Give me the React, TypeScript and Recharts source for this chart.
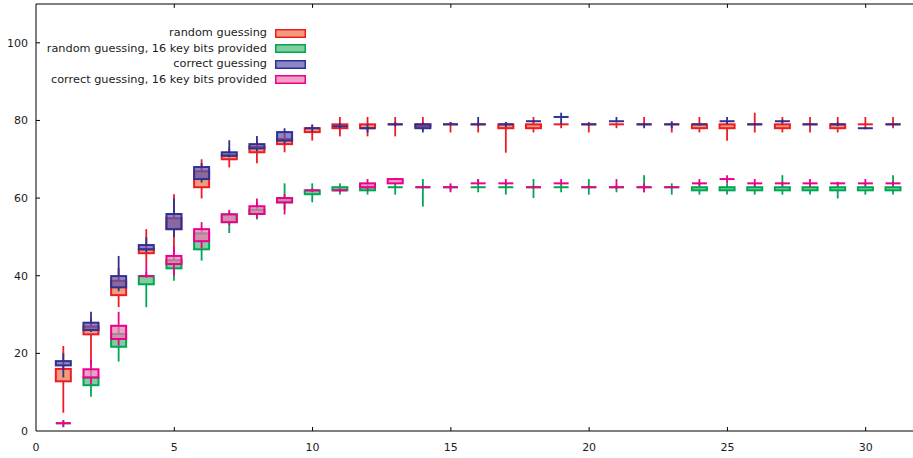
import React from 'react';
import { ComposedChart, Bar, XAxis, YAxis, Legend, ReferenceLine } from 'recharts';

// x positions
const xValues = [1, 2, 3, 4, 5, 6, 7, 8, 9, 10, 11, 12, 13, 14, 15, 16, 17, 18, 19, 20, 21, 22, 23, 24, 25, 26, 27, 28, 29, 30, 31];

// each entry: [whisker min, box low, box high, whisker max]
const randomGuessing: number[][] = [
  [4.7, 12.8, 16.0, 21.9], [17.0, 24.9, 26.9, 29.0], [31.9, 35.0, 38.7, 42.0], [43.0, 45.8, 46.8, 52.0],
  [46.0, 52.0, 54.8, 61.0], [59.9, 62.8, 66.9, 70.0], [67.9, 70.0, 71.0, 73.0], [69.0, 71.8, 73.2, 75.0],
  [71.8, 73.9, 75.2, 77.0], [74.8, 77.0, 78.0, 78.8], [75.9, 78.0, 79.0, 80.9], [75.9, 78.0, 79.0, 80.9],
  [75.9, 79.0, 79.0, 80.9], [77.5, 78.5, 79.0, 80.9], [76.9, 79.0, 79.0, 79.6], [76.9, 79.0, 79.0, 79.5],
  [71.7, 78.0, 79.0, 79.6], [76.9, 78.0, 79.0, 80.9], [78.0, 79.0, 79.0, 79.3], [76.9, 79.0, 79.0, 79.6],
  [78.0, 79.0, 79.0, 79.5], [78.5, 79.0, 79.0, 80.9], [76.9, 79.0, 79.0, 79.5], [76.9, 78.0, 79.0, 80.9],
  [74.8, 78.0, 79.0, 79.5], [76.9, 79.0, 79.0, 82.0], [76.9, 78.0, 79.0, 80.9], [76.9, 79.0, 79.0, 80.9],
  [76.9, 78.0, 79.0, 80.9], [78.0, 79.0, 79.0, 80.9], [78.0, 79.0, 79.0, 80.9],
];

const randomGuessing16: number[][] = [
  [1.0, 2.0, 2.0, 2.8], [8.8, 11.8, 13.8, 16.0], [17.9, 21.7, 25.0, 27.0], [31.9, 37.8, 39.9, 41.0],
  [38.7, 41.9, 44.0, 46.0], [43.9, 46.8, 50.9, 52.0], [51.0, 53.8, 55.8, 56.5], [54.5, 55.9, 57.0, 59.0],
  [57.0, 58.9, 60.0, 63.8], [58.9, 61.0, 62.0, 63.8], [60.9, 62.0, 62.8, 63.8], [60.9, 62.0, 62.8, 63.5],
  [60.9, 62.8, 62.8, 63.8], [57.8, 62.8, 62.8, 64.9], [62.0, 62.8, 62.8, 63.5], [61.5, 62.8, 62.8, 64.9],
  [60.9, 62.8, 62.8, 64.0], [60.0, 62.8, 62.8, 64.9], [61.5, 62.8, 62.8, 64.0], [60.9, 62.8, 62.8, 64.9],
  [61.5, 62.8, 62.8, 63.3], [61.5, 62.8, 62.8, 65.9], [60.9, 62.8, 62.8, 63.8], [60.9, 62.0, 62.8, 63.8],
  [60.9, 62.0, 62.8, 63.8], [60.9, 62.0, 62.8, 63.5], [60.9, 62.0, 62.8, 65.9], [60.9, 62.0, 62.8, 63.5],
  [59.9, 62.0, 62.8, 63.5], [60.9, 62.0, 62.8, 63.5], [60.9, 62.0, 62.8, 65.9],
];

const correctGuessing: number[][] = [
  [13.8, 16.9, 18.0, 20.0], [25.5, 26.0, 27.9, 30.7], [36.0, 37.0, 39.9, 45.1], [46.0, 46.8, 47.9, 49.9],
  [50.0, 52.0, 55.9, 59.9], [64.0, 64.9, 68.0, 69.0], [70.5, 70.9, 71.8, 74.9], [72.0, 72.8, 73.9, 76.0],
  [74.0, 74.8, 77.0, 78.0], [77.0, 78.0, 78.0, 79.0], [78.0, 78.5, 78.5, 79.3], [76.9, 78.0, 78.0, 79.0],
  [78.5, 79.0, 79.0, 79.6], [76.9, 78.0, 79.0, 79.5], [78.8, 79.0, 79.0, 79.6], [78.5, 79.0, 79.0, 80.9],
  [78.2, 79.0, 79.0, 79.6], [79.5, 79.8, 79.8, 80.0], [79.0, 80.9, 80.9, 82.0], [78.6, 79.0, 79.0, 79.4],
  [79.8, 79.8, 79.8, 80.9], [78.0, 79.0, 79.0, 79.2], [78.0, 79.0, 79.0, 79.8], [78.7, 79.0, 79.0, 79.2],
  [79.0, 79.8, 79.8, 80.9], [78.7, 79.0, 79.0, 79.3], [79.3, 79.8, 79.8, 80.2], [78.7, 79.0, 79.0, 79.3],
  [78.5, 79.0, 79.0, 79.5], [77.7, 78.0, 78.0, 78.3], [78.7, 79.0, 79.0, 79.3],
];

const correctGuessing16: number[][] = [
  [1.0, 2.0, 2.0, 2.8], [12.0, 13.8, 15.9, 18.3], [22.0, 23.7, 27.1, 30.7], [39.5, 39.9, 39.9, 43.0],
  [40.0, 43.0, 45.1, 47.5], [47.0, 48.9, 52.0, 53.8], [53.0, 53.8, 55.8, 57.0], [54.8, 55.9, 57.9, 59.9],
  [55.8, 58.9, 60.0, 61.0], [61.5, 62.0, 62.0, 62.5], [61.5, 62.0, 62.0, 62.5], [62.0, 62.8, 63.8, 64.9],
  [63.5, 63.8, 64.9, 65.2], [62.5, 62.8, 62.8, 63.2], [61.5, 62.8, 62.8, 63.8], [63.5, 63.8, 63.8, 64.9],
  [63.2, 63.8, 63.8, 64.9], [62.5, 62.8, 62.8, 63.2], [63.5, 63.8, 63.8, 64.9], [62.5, 62.8, 62.8, 63.2],
  [62.3, 62.8, 62.8, 64.9], [61.5, 62.8, 62.8, 63.8], [62.5, 62.8, 62.8, 63.1], [63.2, 63.8, 63.8, 64.9],
  [63.8, 64.9, 64.9, 65.9], [63.0, 63.8, 63.8, 64.9], [63.2, 63.8, 63.8, 64.2], [63.0, 63.8, 63.8, 64.9],
  [63.2, 63.8, 63.8, 64.2], [63.2, 63.8, 63.8, 64.9], [63.2, 63.8, 63.8, 64.3],
];

const seriesNames = [
  'random guessing',
  'random guessing, 16 key bits provided',
  'correct guessing',
  'correct guessing, 16 key bits provided',
];

const xTicks = [0, 5, 10, 15, 20, 25, 30];
const yTicks = [0, 20, 40, 60, 80, 100];
const Y_MAX = 110;

const data = xValues.map((x, i) => ({
  x,
  r: randomGuessing[i],
  g: randomGuessing16[i],
  b: correctGuessing[i],
  p: correctGuessing16[i],
}));

const FILL_OPACITY = 0.7;

const series = [
  { key: 'r', axis: 'xr', name: seriesNames[0], stroke: '#ed1c24', fill: '#f07045' },
  { key: 'g', axis: 'xg', name: seriesNames[1], stroke: '#00a651', fill: '#4cb877' },
  { key: 'b', axis: 'xb', name: seriesNames[2], stroke: '#2e3192', fill: '#5a54ae' },
  { key: 'p', axis: 'xp', name: seriesNames[3], stroke: '#ec008c', fill: '#ee77b0' },
];

const FONT = 'DejaVu Sans';
const TEXT = '#1c1c1c';

const makeShape = (key: string, stroke: string, fill: string) => (props: any) => {
  const { x, y, width, height, payload } = props;
  const v: number[] = payload[key];
  if (!v) return <g />;
  const [lo, q1, q3, hi] = v;
  const top = Math.min(y, y + height);
  const h = Math.abs(height);
  const toY = (val: number) => (hi === lo ? top : top + (h * (hi - val)) / (hi - lo));
  const cx = x + width / 2;
  const yQ1 = toY(q1);
  const yQ3 = toY(q3);
  const yLo = toY(lo);
  const yHi = toY(hi);
  const boxH = yQ1 - yQ3;
  return (
    <g>
      {yQ3 - yHi > 0.1 && <line x1={cx} x2={cx} y1={yHi} y2={yQ3} stroke={stroke} strokeWidth={1.8} />}
      {yLo - yQ1 > 0.1 && <line x1={cx} x2={cx} y1={yQ1} y2={yLo} stroke={stroke} strokeWidth={1.8} />}
      {boxH > 0.5 ? (
        <rect x={x} y={yQ3} width={width} height={boxH} fill={fill} fillOpacity={FILL_OPACITY} stroke={stroke} strokeWidth={2} />
      ) : (
        <line x1={x} x2={x + width} y1={yQ1} y2={yQ1} stroke={stroke} strokeWidth={2} />
      )}
    </g>
  );
};

const XTick = (props: any) => {
  const { x, y, payload } = props;
  return (
    <g>
      {payload.value !== 0 && <line x1={x} x2={x} y1={y} y2={y - 4} stroke="#000" strokeWidth={1} />}
      <text x={x} y={y + 20} textAnchor="middle" fontFamily={FONT} fontSize={11} fill={TEXT}>
        {payload.value}
      </text>
    </g>
  );
};

const YTick = (props: any) => {
  const { x, y, payload } = props;
  return (
    <g>
      {payload.value !== 0 && <line x1={x} x2={x + 4} y1={y} y2={y} stroke="#000" strokeWidth={1} />}
      <text x={x - 8} y={y + 4} textAnchor="end" fontFamily={FONT} fontSize={11} fill={TEXT}>
        {payload.value}
      </text>
    </g>
  );
};

const renderLegend = () => (
  <div style={{ position: 'relative', width: 320, height: 92, fontFamily: FONT, fontSize: 11.3 }}>
    {series.map((s, i) => (
      <div
        key={s.key}
        style={{
          position: 'absolute',
          left: 0,
          top: 25 + i * 15.6,
          width: 306,
          height: 16,
          display: 'flex',
          alignItems: 'center',
          justifyContent: 'flex-end',
        }}
      >
        <span style={{ color: TEXT, marginRight: 8, whiteSpace: 'nowrap', lineHeight: '16px' }}>{s.name}</span>
        <svg width={31} height={9} style={{ display: 'block' }}>
          <rect x={0.75} y={0.75} width={29.5} height={7.5} fill={s.fill} fillOpacity={FILL_OPACITY} stroke={s.stroke} strokeWidth={1.5} />
        </svg>
      </div>
    ))}
  </div>
);

export default function App() {
  return (
    <div style={{ position: 'absolute', left: 0, top: 0, width: 913, height: 458, overflow: 'hidden', background: '#fff' }}>
      <ComposedChart width={921} height={458} data={data} margin={{ top: 4, right: 0, bottom: 0, left: 0 }}>
        <XAxis
          xAxisId="xr"
          dataKey="x"
          type="number"
          domain={[0, 32]}
          ticks={xTicks}
          height={27}
          tick={<XTick />}
          tickSize={0}
          tickMargin={0}
          tickLine={false}
          axisLine={{ stroke: '#000', strokeWidth: 1 }}
        />
        <XAxis xAxisId="xg" dataKey="x" type="number" domain={[0, 32]} height={0} hide />
        <XAxis xAxisId="xb" dataKey="x" type="number" domain={[0, 32]} height={0} hide />
        <XAxis xAxisId="xp" dataKey="x" type="number" domain={[0, 32]} height={0} hide />
        <YAxis
          type="number"
          domain={[0, Y_MAX]}
          ticks={yTicks}
          width={36}
          tick={<YTick />}
          tickSize={0}
          tickMargin={0}
          tickLine={false}
          axisLine={{ stroke: '#000', strokeWidth: 1 }}
        />
        <ReferenceLine xAxisId="xr" y={Y_MAX} stroke="#000" strokeWidth={1} />
        {xTicks
          .filter((t) => t !== 0)
          .map((t) => (
            <ReferenceLine
              key={`tt${t}`}
              xAxisId="xr"
              segment={[
                { x: t, y: Y_MAX },
                { x: t, y: Y_MAX - 1 },
              ]}
              stroke="#000"
              strokeWidth={1}
            />
          ))}
        <Legend
          content={renderLegend}
          layout="vertical"
          align="center"
          verticalAlign="middle"
          wrapperStyle={{ left: 0, top: 0, width: 320, height: 92 }}
        />
        {series.map((s) => (
          <Bar
            key={s.key}
            xAxisId={s.axis}
            name={s.name}
            dataKey={(d: any) => [d[s.key][0], d[s.key][3]]}
            barSize={15}
            fill={s.fill}
            stroke={s.stroke}
            shape={makeShape(s.key, s.stroke, s.fill)}
            isAnimationActive={false}
          />
        ))}
      </ComposedChart>
    </div>
  );
}
